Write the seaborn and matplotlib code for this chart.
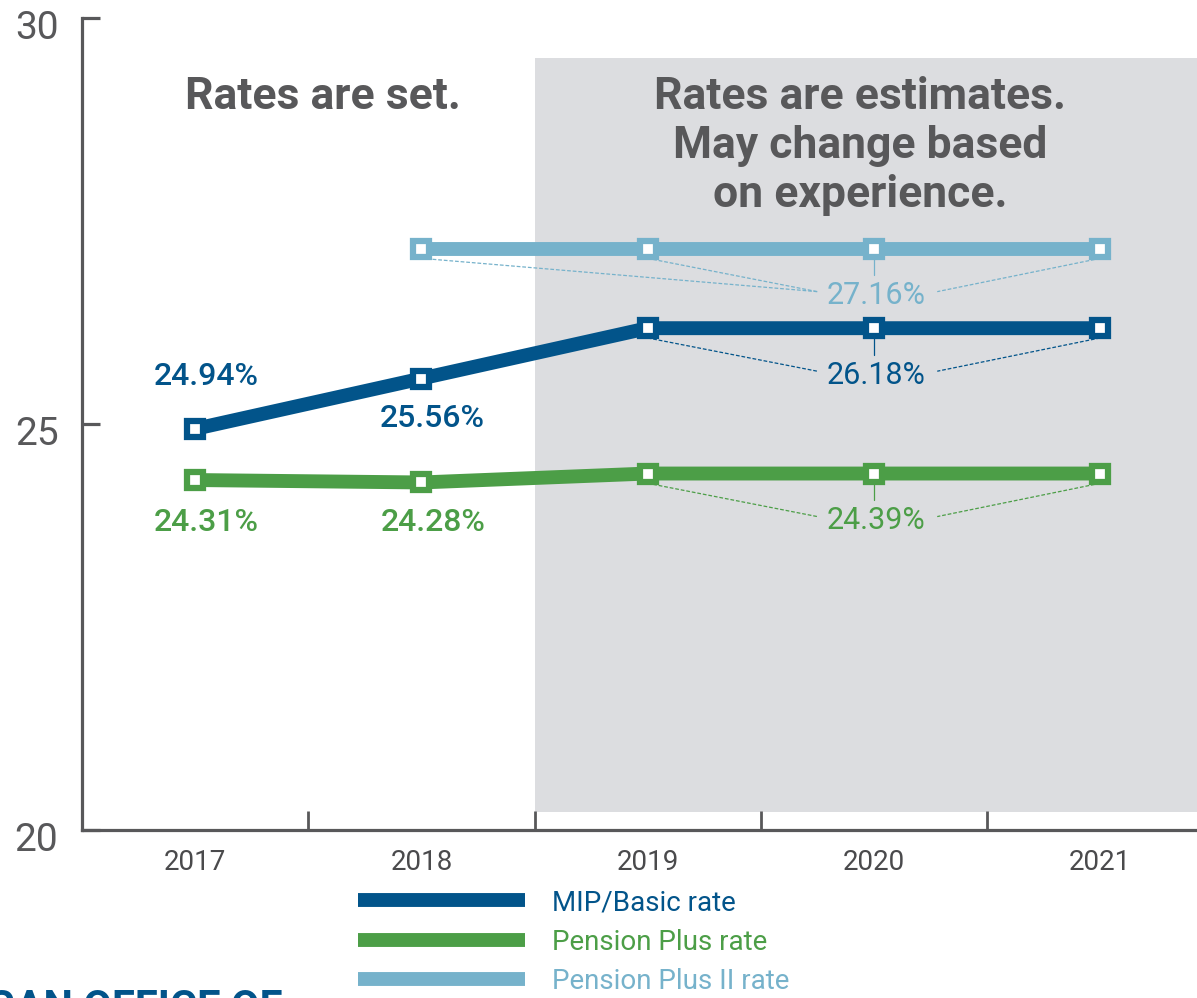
import numpy as np
import pandas as pd
import matplotlib
matplotlib.use("Agg")
import matplotlib.pyplot as plt
import matplotlib.transforms as mtransforms
import seaborn as sns
from matplotlib.lines import Line2D

# Employer contribution rates by plan, fiscal years 2017-2021
years = [2017, 2018, 2019, 2020, 2021]
mip_basic = [24.94, 25.56, 26.18, 26.18, 26.18]
pension_plus = [24.31, 24.28, 24.39, 24.39, 24.39]
pension_plus_2 = [np.nan, 27.16, 27.16, 27.16, 27.16]
series_names = ["MIP/Basic rate", "Pension Plus rate", "Pension Plus II rate"]
series_colors = ["#02548a", "#4c9e47", "#76b2cb"]
y_ticks = [20, 25, 30]

sns.set_theme(style="ticks")
plt.rcParams["font.family"] = ["Roboto", "DejaVu Sans"]

GRAY = "#58585a"
SHADE = "#dcdde0"

df = pd.DataFrame({
    "year": years * 3,
    "rate": mip_basic + pension_plus + pension_plus_2,
    "series": np.repeat(series_names, len(years)),
})

W, H = 1197, 998
fig = plt.figure(figsize=(W / 100, H / 100), dpi=100)


def fxy(x, y):
    """Pixel position -> figure fraction."""
    return x / W, 1 - y / H


ax = fig.add_axes([82 / W, (H - 830) / H, (W - 82) / W, (830 - 18) / H])
ax.set_xlim(2016.5, 2016.5 + (W - 82) / 226.25)
ax.set_ylim(20, 30)

# shaded band for projected years
ax.axvspan(2018.5, 2023, ymin=18 / 812, ymax=(830 - 58) / 812,
           color=SHADE, lw=0, zorder=0)

for name, color in zip(series_names, series_colors):
    sns.lineplot(data=df[df["series"] == name], x="year", y="rate", ax=ax,
                 color=color, lw=10, marker="s", ms=11, mfc="white",
                 mec=color, mew=4.5, legend=False, zorder=3,
                 solid_joinstyle="miter")

# value labels for the set years
left_labels = [
    (0, 0, 0.64), (0, 1, -0.49),
    (1, 0, -0.52), (1, 1, -0.49),
]
series_vals = [mip_basic, pension_plus, pension_plus_2]
for s, i, dy in left_labels:
    v = series_vals[s][i]
    ax.text(years[i] + 0.05, v + dy, f"{v:.2f}%", color=series_colors[s],
            fontsize=23, fontweight="medium", ha="center", va="center",
            zorder=5)

# shared labels for the projected years, with leader lines
for s in [2, 0, 1]:
    v = series_vals[s][3]
    c = series_colors[s]
    ly = v - 0.58
    ax.text(2020.01, ly, f"{v:.2f}%", color=c, fontsize=22,
            fontweight="normal", ha="center", va="center", zorder=5)
    starts = [2019, 2021] if s != 2 else [2018, 2019, 2021]
    for x0 in starts:
        x1 = 2019.75 if x0 < 2020 else 2020.28
        ax.plot([x0, x1], [v - 0.12, ly + 0.05], color=c, lw=0.9,
                ls=(0, (3, 1.5)), zorder=2)
    ax.plot([2020, 2020], [v - 0.12, v - 0.33], color=c, lw=0.9, zorder=2)

# axes styling
sns.despine(ax=ax, top=True, right=True)
for side in ["left", "bottom"]:
    ax.spines[side].set_color(GRAY)
    ax.spines[side].set_linewidth(2.3)

ax.set_yticks(y_ticks)
ax.set_yticklabels([str(t) for t in y_ticks])
ax.tick_params(axis="y", direction="in", length=13, width=2.3, color=GRAY,
               pad=17, labelsize=28, labelcolor=GRAY)
shift_down = mtransforms.ScaledTranslation(0, -7 / 100, fig.dpi_scale_trans)
for lbl in ax.get_yticklabels():
    lbl.set_transform(lbl.get_transform() + shift_down)

ax.set_xticks(years)
ax.set_xticklabels([str(y) for y in years])
ax.set_xticks([2017.5, 2018.5, 2019.5, 2020.5], minor=True)
ax.tick_params(axis="x", which="major", length=0, pad=14, labelsize=20,
               labelcolor="#4a4a4c")
ax.tick_params(axis="x", which="minor", direction="in", length=14,
               width=2, color=GRAY)
ax.set_xlabel("")
ax.set_ylabel("")

# period headers
fig.text(*fxy(323, 97), "Rates are set.", fontsize=32, fontweight="bold",
         color=GRAY, ha="center", va="center")
fig.text(*fxy(860, 146), "Rates are estimates.\nMay change based\non experience.",
         fontsize=32, fontweight="bold", color=GRAY, ha="center",
         va="center", linespacing=1.22)

# legend
handles = [Line2D([], [], color=c, lw=10, solid_capstyle="butt")
           for c in series_colors]
leg = fig.legend(handles, series_names, loc="upper left",
                 bbox_to_anchor=fxy(358, 889), frameon=False, fontsize=20,
                 handlelength=6.0, handletextpad=1.0, labelspacing=0.45,
                 borderpad=0, borderaxespad=0)
for txt, c in zip(leg.get_texts(), series_colors):
    txt.set_color(c)

# footer heading running off the bottom edge
fig.text(*fxy(283, 988), "MICHIGAN OFFICE OF", fontsize=30,
         fontweight="bold", color="#02548a", ha="right", va="top")

fig.savefig("out.png", dpi=100)
